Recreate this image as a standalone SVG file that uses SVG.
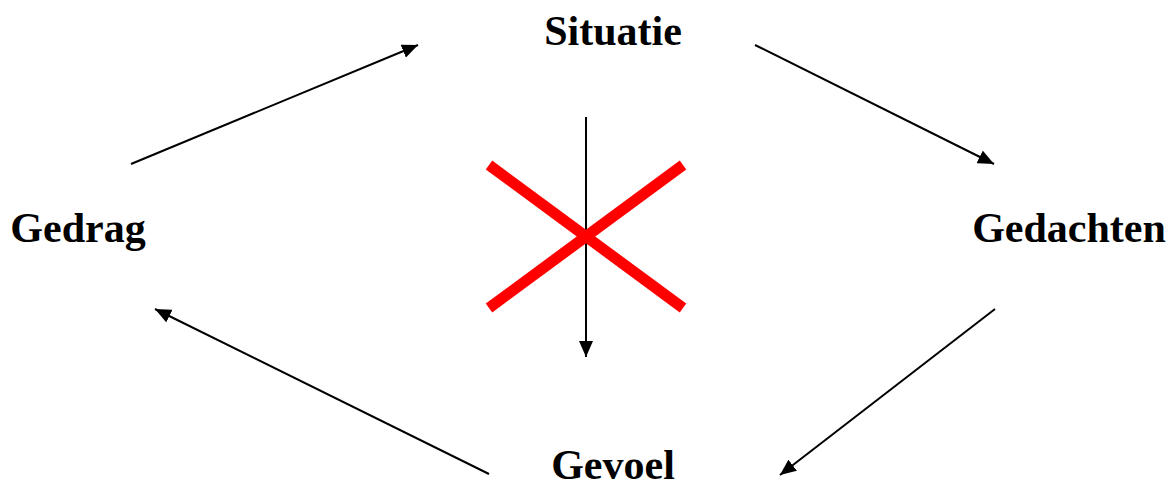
<svg xmlns="http://www.w3.org/2000/svg" width="1174" height="489" viewBox="0 0 1174 489">
<style>
.lbl{font-family:"Liberation Serif","Times New Roman",serif;font-weight:bold;font-size:42px;fill:#000}
.conn{stroke:#000;stroke-width:2;fill:none;marker-end:url(#ah)}
.cross{stroke:#ff0000;stroke-width:11;stroke-linecap:butt}
</style>
<defs>
<marker id="ah" markerWidth="16" markerHeight="14" refX="16" refY="7" orient="auto" markerUnits="userSpaceOnUse">
<path d="M0,0 L16,7 L0,14 Z" fill="#000"/>
</marker>
</defs>
<g id="connectors">
<line class="conn" x1="131" y1="164" x2="418" y2="45"/>
<line class="conn" x1="755" y1="45" x2="994" y2="164"/>
<line class="conn" x1="995" y1="309" x2="780" y2="475"/>
<line class="conn" x1="489" y1="474" x2="155" y2="309"/>
<line class="conn" x1="586" y1="117" x2="586" y2="357"/>
</g>
<g id="cross">
<line class="cross" x1="489" y1="165" x2="683" y2="308"/>
<line class="cross" x1="683" y1="165" x2="489" y2="308"/>
</g>
<g id="situatie"><text class="lbl" x="613" y="45" text-anchor="middle">Situatie</text></g>
<g id="gedachten"><text class="lbl" x="1069" y="242" text-anchor="middle">Gedachten</text></g>
<g id="gevoel"><text class="lbl" x="613" y="479" text-anchor="middle">Gevoel</text></g>
<g id="gedrag"><text class="lbl" x="78" y="242" text-anchor="middle">Gedrag</text></g>
</svg>
